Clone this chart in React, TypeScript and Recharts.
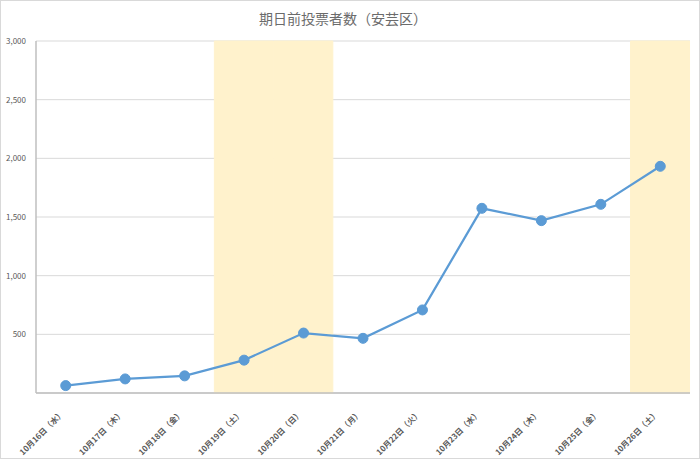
import React from "react";
import {
    ComposedChart,
    Line,
    Bar,
    XAxis,
    YAxis,
    CartesianGrid,
} from "recharts";

// 日付ラベル
const days = [
    "10月16日（水）",
    "10月17日（木）",
    "10月18日（金）",
    "10月19日（土）",
    "10月20日（日）",
    "10月21日（月）",
    "10月22日（火）",
    "10月23日（水）",
    "10月24日（木）",
    "10月25日（金）",
    "10月26日（土）",
];

// 期日前投票者数
const voters = [63, 120, 146, 280, 511, 466, 708, 1574, 1469, 1608, 1932];

// 土日の背景帯
const weekend = [0, 0, 0, 3000, 3000, 0, 0, 0, 0, 0, 3000];

const yTicks = [0, 500, 1000, 1500, 2000, 2500, 3000];

const data = days.map((day, i) => ({
    day,
    voters: voters[i],
    weekend: weekend[i],
}));

const FONT = "'Noto Sans CJK JP', 'Noto Sans', sans-serif";

function DayTick({ x, y, payload }: any) {
    return (
        <g transform={`translate(${x - 1},${y + 13})`}>
            <text
                x={0}
                y={0}
                textAnchor="end"
                transform="rotate(-45)"
                fontSize={8}
                fontWeight="bold"
                fill="#595959"
                fontFamily={FONT}
            >
                {payload.value}
            </text>
        </g>
    );
}

export default function App() {
    return (
        <div style={{ position: "absolute", left: 0, top: 0, width: 700, height: 459, background: "#fff" }}>
            <div
                style={{
                    position: "absolute",
                    top: 8,
                    left: 0,
                    width: 686,
                    textAlign: "center",
                    fontFamily: FONT,
                    fontSize: 14,
                    color: "#6b6b6b",
                }}
            >
                期日前投票者数（安芸区）
            </div>
            <ComposedChart
                width={700}
                height={459}
                data={data}
                margin={{ top: 41, right: 10, bottom: 0, left: 0 }}
                barCategoryGap={0}
            >
                <CartesianGrid vertical={false} stroke="#d9d9d9" />
                <XAxis
                    dataKey="day"
                    height={66}
                    tick={<DayTick />}
                    tickLine={false}
                    axisLine={{ stroke: "#bfbfbf", strokeWidth: 1.5 }}
                    interval={0}
                />
                <YAxis
                    width={36}
                    domain={[0, 3000]}
                    ticks={yTicks}
                    tickFormatter={(v: number) => (v === 0 ? "" : v.toLocaleString("en-US"))}
                    tick={{ fontSize: 8, fill: "#595959", fontFamily: FONT }}
                    tickLine={false}
                    tickMargin={4}
                    axisLine={{ stroke: "#bfbfbf", strokeWidth: 1.5 }}
                />
                <Bar
                    dataKey="weekend"
                    fill="#fff2cc"
                    stroke="#fff2cc"
                    strokeWidth={1}
                    isAnimationActive={false}
                />
                <Line
                    type="linear"
                    dataKey="voters"
                    stroke="#5b9bd5"
                    strokeWidth={2.25}
                    dot={{ r: 5, fill: "#5b9bd5", stroke: "#5b9bd5", strokeWidth: 1 }}
                    isAnimationActive={false}
                />
            </ComposedChart>
            <div
                style={{
                    position: "absolute",
                    inset: 0,
                    border: "1px solid #d9d9d9",
                    pointerEvents: "none",
                }}
            />
        </div>
    );
}
